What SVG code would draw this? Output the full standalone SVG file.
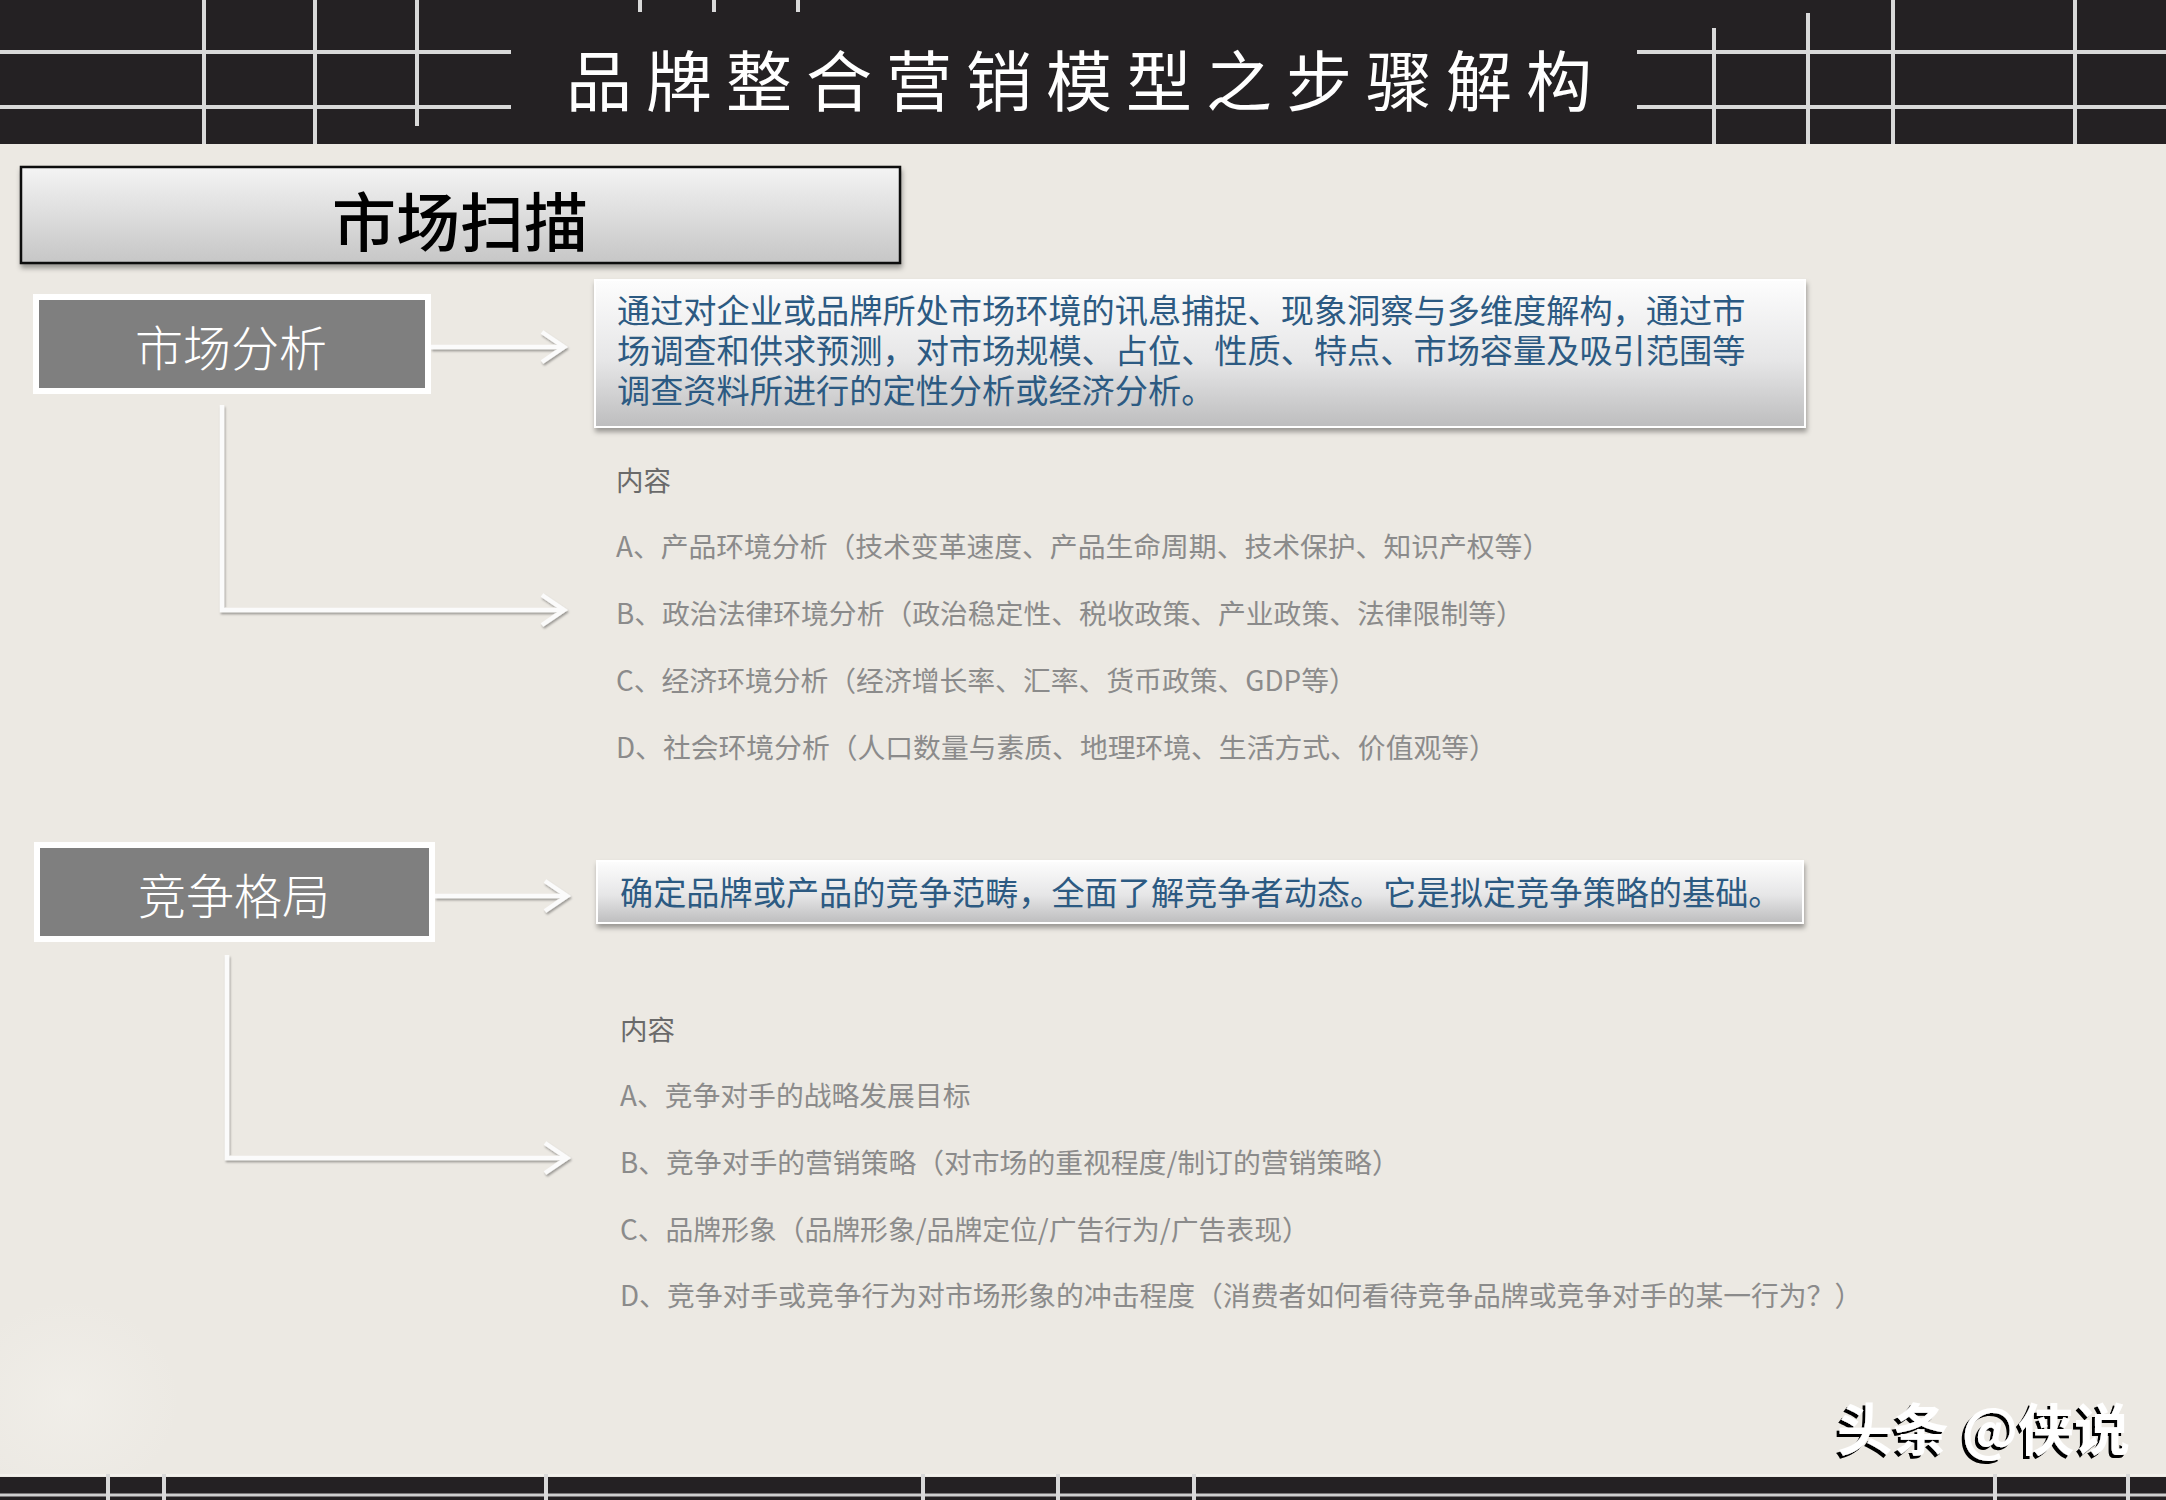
<svg xmlns="http://www.w3.org/2000/svg" width="2166" height="1500" viewBox="0 0 2166 1500">
  <style>
    .cjk { font-family: "Noto Sans CJK SC", "Noto Sans", sans-serif; }
    .grid { stroke: #d9d9d9; stroke-width: 4; fill: none; stroke-linecap: butt; }
    .node-rect { fill: #7f7f7f; stroke: #ffffff; stroke-width: 6; }
    .node-text { font-size: 48px; fill: #ffffff; font-weight: 300; text-anchor: middle; }
    .desc-rect { fill: url(#descGrad); stroke: #ffffff; stroke-width: 2; }
    .desc-text { font-size: 33.2px; fill: #2c5a82; }
    .head-label { font-size: 27.5px; fill: #6a6a6a; }
    .item { font-size: 27.8px; fill: #8b8b8b; }
    .conn { fill: none; stroke: #fbfbfb; stroke-width: 4.5; }
  </style>
  <defs>
    <linearGradient id="hdrGrad" x1="0" y1="0" x2="0" y2="1">
      <stop offset="0" stop-color="#f4f4f4"/>
      <stop offset="1" stop-color="#c6c6c6"/>
    </linearGradient>
    <linearGradient id="descGrad" x1="0" y1="0" x2="0" y2="1">
      <stop offset="0" stop-color="#fdfdfd"/>
      <stop offset="0.55" stop-color="#e6e6e7"/>
      <stop offset="1" stop-color="#bdbdbe"/>
    </linearGradient>
    <radialGradient id="patch" cx="0.5" cy="0.5" r="0.5">
      <stop offset="0" stop-color="#f3f1ec" stop-opacity="0.6"/>
      <stop offset="1" stop-color="#f3f1ec" stop-opacity="0"/>
    </radialGradient>
    <filter id="shadow" x="-5%" y="-20%" width="110%" height="150%">
      <feDropShadow dx="1" dy="4" stdDeviation="2.5" flood-color="#000000" flood-opacity="0.35"/>
    </filter>
    <filter id="lineShadow" x="-10%" y="-10%" width="120%" height="130%">
      <feDropShadow dx="1" dy="2" stdDeviation="1.2" flood-color="#000000" flood-opacity="0.35"/>
    </filter>
    <filter id="wmShadow" x="-5%" y="-20%" width="110%" height="150%">
      <feDropShadow dx="-3" dy="3" stdDeviation="0.6" flood-color="#000000" flood-opacity="1"/>
    </filter>
    <marker id="chev" markerUnits="userSpaceOnUse" markerWidth="40" markerHeight="40" viewBox="-30 -20 34 40" refX="0" refY="0" orient="auto" overflow="visible">
      <path d="M-22,-15 L0,0 L-22,15" fill="none" stroke="#fbfbfb" stroke-width="4.5" stroke-linejoin="miter"/>
    </marker>
  </defs>

  <!-- background -->
  <rect x="0" y="0" width="2166" height="1500" fill="#ece9e3"/>
  <ellipse cx="70" cy="1400" rx="110" ry="100" fill="url(#patch)"/>

  <!-- top band -->
  <g id="top-band">
    <rect x="0" y="0" width="2166" height="144" fill="#242123"/>
    <path class="grid" d="M0,52 H511 M0,107 H511 M1637,52 H2166 M1637,107 H2166"/>
    <path class="grid" d="M204,0 V144 M315,0 V144 M417,0 V126 M640,0 V12 M714,0 V12 M798,0 V12 M1714,28 V144 M1808,13 V144 M1893,0 V144 M2075,0 V144"/>
    <text class="cjk" x="566" y="106" font-size="66" letter-spacing="14" fill="#ffffff">品牌整合营销模型之步骤解构</text>
  </g>

  <!-- bottom band -->
  <g id="bottom-band">
    <rect x="0" y="1477" width="2166" height="23" fill="#242123"/>
    <line x1="0" y1="1475" x2="2166" y2="1475" stroke="#f3f1ec" stroke-width="2"/>
    <line x1="0" y1="1495" x2="2166" y2="1495" stroke="#cfcfcf" stroke-width="3"/>
    <path class="grid" stroke-width="3" d="M108,1474 V1500 M164,1474 V1500 M546,1474 V1500 M923,1474 V1500 M1058,1474 V1500 M1194,1474 V1500 M1995,1474 V1500 M2128,1474 V1500"/>
  </g>

  <!-- section header -->
  <g id="section-header">
    <rect x="21" y="167" width="879" height="96" fill="url(#hdrGrad)" stroke="#111111" stroke-width="2.5" filter="url(#shadow)"/>
    <text class="cjk" x="460" y="246" font-size="64" font-weight="500" fill="#000000" text-anchor="middle">市场扫描</text>
  </g>

  <!-- connectors -->
  <g id="connectors" filter="url(#lineShadow)">
    <path class="conn" d="M431,347 H564" marker-end="url(#chev)"/>
    <path class="conn" d="M222,405 V610 H564" marker-end="url(#chev)"/>
    <path class="conn" d="M435,896 H567" marker-end="url(#chev)"/>
    <path class="conn" d="M227,955 V1158 H567" marker-end="url(#chev)"/>
  </g>

  <!-- node: 市场分析 -->
  <g id="node-market-analysis">
    <rect class="node-rect" x="36" y="297" width="392" height="94"/>
    <text class="cjk node-text" x="231" y="366">市场分析</text>
  </g>

  <!-- node: market analysis description -->
  <g id="node-market-desc">
    <rect class="desc-rect" x="595" y="280" width="1210" height="147" filter="url(#shadow)"/>
    <text class="cjk desc-text" x="617" y="323"><tspan x="617" y="323">通过对企业或品牌所处市场环境的讯息捕捉、现象洞察与多维度解构，通过市</tspan><tspan x="617" y="363">场调查和供求预测，对市场规模、占位、性质、特点、市场容量及吸引范围等</tspan><tspan x="617" y="403">调查资料所进行的定性分析或经济分析。</tspan></text>
  </g>

  <!-- node: market analysis contents -->
  <g id="node-market-contents">
    <text class="cjk head-label" x="616" y="491">内容</text>
    <text class="cjk item" x="616" y="557">A、产品环境分析（技术变革速度、产品生命周期、技术保护、知识产权等）</text>
    <text class="cjk item" x="616" y="624">B、政治法律环境分析（政治稳定性、税收政策、产业政策、法律限制等）</text>
    <text class="cjk item" x="616" y="691">C、经济环境分析（经济增长率、汇率、货币政策、GDP等）</text>
    <text class="cjk item" x="616" y="758">D、社会环境分析（人口数量与素质、地理环境、生活方式、价值观等）</text>
  </g>

  <!-- node: 竞争格局 -->
  <g id="node-competition">
    <rect class="node-rect" x="37" y="845" width="395" height="94"/>
    <text class="cjk node-text" x="234" y="914">竞争格局</text>
  </g>

  <!-- node: competition description -->
  <g id="node-competition-desc">
    <rect class="desc-rect" x="597" y="861" width="1206" height="62" filter="url(#shadow)"/>
    <text class="cjk desc-text" x="620" y="905" font-size="32.3">确定品牌或产品的竞争范畴，全面了解竞争者动态。它是拟定竞争策略的基础。</text>
  </g>

  <!-- node: competition contents -->
  <g id="node-competition-contents">
    <text class="cjk head-label" x="620" y="1040">内容</text>
    <text class="cjk item" x="620" y="1106">A、竞争对手的战略发展目标</text>
    <text class="cjk item" x="620" y="1173">B、竞争对手的营销策略（对市场的重视程度/制订的营销策略）</text>
    <text class="cjk item" x="620" y="1240">C、品牌形象（品牌形象/品牌定位/广告行为/广告表现）</text>
    <text class="cjk item" x="620" y="1306">D、竞争对手或竞争行为对市场形象的冲击程度（消费者如何看待竞争品牌或竞争对手的某一行为？）</text>
  </g>

  <!-- watermark -->
  <g id="watermark">
    <text class="cjk" x="1837" y="1450" font-size="56" font-weight="bold" fill="#ffffff" filter="url(#wmShadow)">头条 @侠说</text>
  </g>
</svg>
